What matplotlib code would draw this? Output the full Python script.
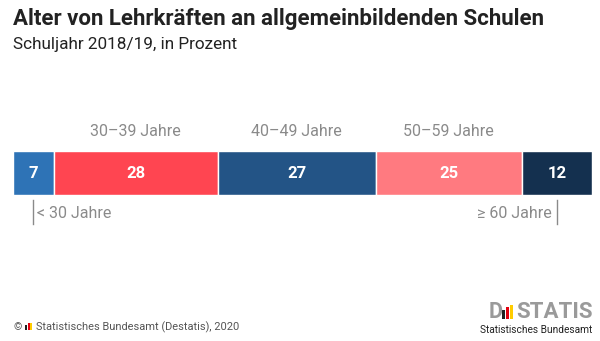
import numpy as np
import matplotlib.pyplot as plt
from matplotlib.patches import Rectangle

# Data
groups = ['< 30 Jahre', '30–39 Jahre', '40–49 Jahre', '50–59 Jahre', '≥ 60 Jahre']
values = [7, 28, 27, 25, 12]
colors = ['#2e73b6', '#ff4551', '#235486', '#ff7a80', '#14304f']
above = [False, True, True, True, False]

W, H = 600, 341
fig = plt.figure(figsize=(W / 100, H / 100), dpi=100)
plt.rcParams['font.family'] = ['Roboto', 'DejaVu Sans']

# full-figure overlay in pixel coords for texts
ov = fig.add_axes([0, 0, 1, 1])
ov.set_xlim(0, W)
ov.set_ylim(H, 0)
ov.axis('off')

ov.text(13, 19, 'Alter von Lehrkräften an allgemeinbildenden Schulen',
        fontsize=16, fontweight='bold', color='#222222', va='center', ha='left')
ov.text(13, 45, 'Schuljahr 2018/19, in Prozent',
        fontsize=12.3, color='#222222', va='center', ha='left')

# bar axes
x0, x1, y0, y1 = 13, 592, 151, 195
ax = fig.add_axes([x0 / W, 1 - y1 / H, (x1 - x0) / W, (y1 - y0) / H])
lefts = np.cumsum([0] + values[:-1])
ax.barh(0, values, left=lefts, height=1, color=colors, edgecolor='white', linewidth=1)
ax.set_xlim(0, sum(values))
ax.set_ylim(-0.5, 0.5)
ax.axis('off')

scale = (x1 - x0) / sum(values)
for g, v, l, up in zip(groups, values, lefts, above):
    cx = l + v / 2
    ax.text(cx, 0, str(v), ha='center', va='center', color='white',
            fontsize=12, fontweight='bold')
    px = x0 + cx * scale
    if up:
        ov.text(px, 132, g, ha='center', va='center', color='#8a8a8a', fontsize=11.5)

# outer labels with tick lines
pl = x0 + (lefts[0] + values[0] / 2) * scale
pr = x0 + (lefts[-1] + values[-1] / 2) * scale
ov.plot([pl, pl], [200, 224], color='#8a8a8a', lw=1)
ov.plot([pr, pr], [200, 224], color='#8a8a8a', lw=1)
ov.text(pl + 4, 214, groups[0], ha='left', va='center', color='#8a8a8a', fontsize=11.5)
ov.text(pr - 5, 214, groups[-1], ha='right', va='center', color='#8a8a8a', fontsize=11.5)

# footer
ov.text(13, 327, '©', ha='left', va='center', color='#555555', fontsize=7.5)
for i, c in enumerate(['#222222', '#e3000f', '#ffcc00']):
    ov.add_patch(Rectangle((25 + i * 2.6, 323 + (2 if i == 0 else 0)), 2.2, 7 - (2 if i == 0 else 0),
                           color=c, lw=0))
ov.text(36, 327, 'Statistisches Bundesamt (Destatis), 2020', ha='left', va='center',
        color='#555555', fontsize=7.9)

# DESTATIS logo
ov.text(489, 312, 'D', ha='left', va='center', color='#9a9a9a', fontsize=15.5, fontweight='bold')
for i, (c, h) in enumerate([('#222222', 9), ('#e3000f', 12), ('#ffcc00', 14)]):
    ov.add_patch(Rectangle((502 + i * 4, 319 - h), 3.2, h, color=c, lw=0))
ov.text(516, 312, 'STATIS', ha='left', va='center', color='#9a9a9a', fontsize=16, fontweight='bold')
ov.text(592, 330, 'Statistisches Bundesamt', ha='right', va='center', color='#222222', fontsize=7.3)

fig.savefig('out.png', dpi=100)
